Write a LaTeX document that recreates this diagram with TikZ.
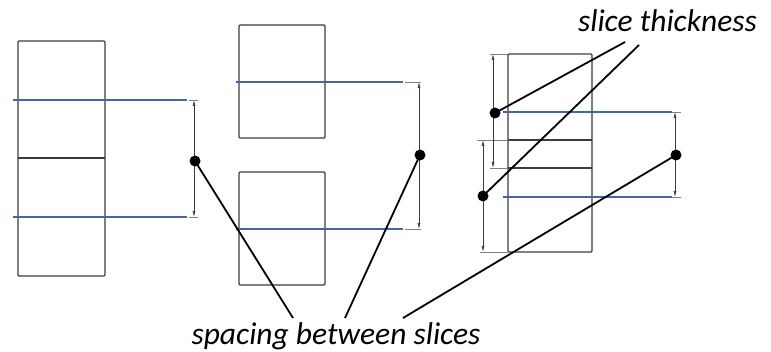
\documentclass[tikz,border=0pt]{standalone}
\usepackage{fontspec}
\setmainfont{Carlito}
\usetikzlibrary{arrows.meta}
\definecolor{slblue}{RGB}{70,100,170}
\definecolor{boxgray}{RGB}{60,60,60}
\begin{document}
\begin{tikzpicture}[x=1pt,y=-1pt,
  box/.style={draw=boxgray,line width=1.2pt,rounded corners=1pt},
  sline/.style={draw=slblue,line width=1.5pt},
  dimline/.style={draw=boxgray,line width=0.6pt,{Latex[length=6pt,width=3pt]}-{Latex[length=6pt,width=3pt]}},
  tick/.style={draw=gray,line width=0.6pt},
  leader/.style={draw=black,line width=1.8pt},
  dot/.style={fill=black,circle,inner sep=0pt,minimum size=11pt},
  lbl/.style={font=\fontsize{31.5}{34}\selectfont\itshape,inner sep=0pt}]
\useasboundingbox (0,0) rectangle (771,352);
% left group
\draw[box] (18,41) rectangle (105,276);
\draw[box] (18,158) -- (105,158);
\draw[sline] (13,100) -- (187,100);
\draw[sline] (13,217) -- (187,217);
\draw[tick] (189,100) -- (198,100);
\draw[tick] (189,217) -- (198,217);
\coordinate (a1) at (194,100);
\coordinate (a2) at (194,217);
\draw[dimline] (a1) -- (a2);
\node[dot] (d1) at (195,161) {};
% middle group
\draw[box] (239,25) rectangle (325,138);
\draw[box] (239,172) rectangle (325,285);
\draw[sline] (236,82) -- (403,82);
\draw[sline] (236,229) -- (403,229);
\draw[tick] (405,82) -- (421,82);
\draw[tick] (405,229) -- (421,229);
\coordinate (b1) at (419,82);
\coordinate (b2) at (419,229);
\draw[dimline] (b1) -- (b2);
\node[dot] (d2) at (420,155) {};
% right group
\draw[box] (508,54) rectangle (592,252);
\draw[box] (508,140) -- (592,140);
\draw[box] (508,168) -- (592,168);
\draw[sline] (503,112) -- (672,112);
\draw[sline] (503,197) -- (672,197);
\draw[tick] (672,112) -- (681,112);
\draw[tick] (672,197) -- (681,197);
\draw[tick] (490,54) -- (508,54);
\draw[tick] (490,168) -- (508,168);
\draw[tick] (477,140) -- (508,140);
\draw[tick] (480,252) -- (508,252);
\coordinate (c1) at (675,112);
\coordinate (c2) at (675,197);
\draw[dimline] (c1) -- (c2);
\coordinate (e1) at (493,54);
\coordinate (e2) at (493,168);
\draw[dimline] (e1) -- (e2);
\coordinate (f1) at (483,140);
\coordinate (f2) at (483,252);
\draw[dimline] (f1) -- (f2);
\node[dot] (d3) at (676,155) {};
\node[dot] (t1) at (495,113) {};
\node[dot] (t2) at (483,196) {};
% labels
\node[lbl,anchor=base] (thick) at (667.5,32) {slice thickness};
\node[lbl,anchor=base] (space) at (336,345) {spacing between slices};
\coordinate (th1) at (625,42);
\coordinate (th2) at (639,45);
\coordinate (sp1) at (293,318);
\coordinate (sp2) at (345,318);
\coordinate (sp3) at (403,318);
\draw[leader] (th1) -- (t1.center);
\draw[leader] (th2) -- (t2.center);
\draw[leader] (sp1) -- (d1.center);
\draw[leader] (sp2) -- (d2.center);
\draw[leader] (sp3) -- (d3.center);
\end{tikzpicture}
\end{document}
